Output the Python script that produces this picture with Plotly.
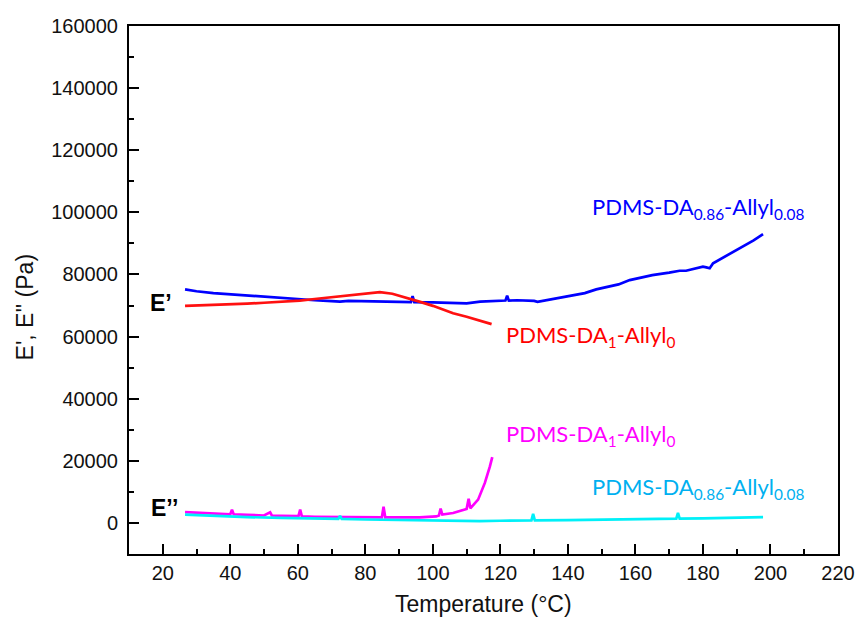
import plotly.graph_objects as go

# ---------------- data ----------------
# E' of PDMS-DA0.86-Allyl0.08 (blue)
t_blue = [26.6, 30, 35, 40, 45, 50, 55, 60, 65, 70, 72.5, 75, 80, 85, 90, 93.5, 94, 94.5,
          100, 105, 110, 114, 120, 121.5, 122, 122.5, 125, 130, 131, 135, 140, 145, 148.4,
          150, 153, 155, 158.3, 160, 165, 170, 173.1, 175, 180, 181, 182, 183, 185, 188.9,
          192, 195, 197.8]
e_blue = [75200, 74600, 74000, 73600, 73100, 72700, 72300, 72000, 71700, 71400, 71250, 71500,
          71400, 71300, 71200, 71100, 73000, 71100, 71000, 70900, 70700, 71250, 71500, 71600,
          73200, 71600, 71700, 71500, 71200, 72000, 72800, 74000, 75200, 75600, 76500, 76800,
          78200, 78600, 79800, 80600, 81200, 81200, 82500, 82300, 82000, 83600, 84800, 87300,
          89200, 91000, 93000]

# E' of PDMS-DA1-Allyl0 (red)
t_red = [26.6, 30, 35, 40, 45, 50, 55, 60.6, 65, 70, 75, 80, 84.3, 88, 91, 94, 96, 100,
         103, 106, 110, 114, 117.4]
e_red = [69900, 70000, 70100, 70300, 70600, 70900, 71200, 71600, 72100, 72700, 73400, 73900,
         74300, 73800, 72900, 71900, 71250, 69900, 68700, 67500, 66400, 65200, 64000]

# E'' of PDMS-DA1-Allyl0 (magenta)
t_mag = [26.6, 30, 35, 40, 40.5, 41, 45, 50, 51.8, 52.3, 55, 60.2, 60.7, 61.2, 65, 70, 75,
         76.3, 80, 84.9, 85.4, 85.9, 90, 96.1, 101, 101.8, 102.3, 102.8, 106, 110, 110.6,
         111.1, 113.4, 115.4, 116.9, 117.6]
e_mag = [3500, 3300, 3000, 2800, 4300, 2800, 2600, 2400, 3400, 2400, 2300, 2200, 4300, 2100,
         2000, 1900, 1850, 1800, 1800, 1800, 5200, 1800, 1800, 1800, 2100, 2400, 4600, 2700,
         3200, 4500, 7800, 4700, 7500, 12900, 18200, 21200]

# E'' of PDMS-DA0.86-Allyl0.08 (cyan)
t_cyan = [26.6, 35, 45, 55, 66.5, 72, 72.5, 73, 80, 90, 96.1, 105, 113.9, 120, 125.7, 129.2,
          129.7, 130.2, 140, 150, 160, 163.2, 172.1, 172.6, 173.1, 180, 190, 197.8]
e_cyan = [2700, 2300, 1900, 1600, 1400, 1300, 2300, 1300, 1100, 900, 850, 700, 600, 700, 750,
          800, 2900, 850, 900, 1000, 1200, 1300, 1400, 3200, 1400, 1500, 1700, 1900]

x_ticks = [20, 40, 60, 80, 100, 120, 140, 160, 180, 200, 220]
y_ticks = [0, 20000, 40000, 60000, 80000, 100000, 120000, 140000, 160000]
y_tick_labels = ["0", "20000", "40000", "60000", "80000", "100000", "120000", "140000", "160000"]
x_tick_labels = ["20", "40", "60", "80", "100", "120", "140", "160", "180", "200", "220"]

fig = go.Figure()
series = [
    (t_blue, e_blue, "#0000FF"),
    (t_red, e_red, "#FF1010"),
    (t_mag, e_mag, "#FF00FF"),
    (t_cyan, e_cyan, "#00F0F8"),
]
for tx, ey, col in series:
    fig.add_trace(go.Scatter(x=tx, y=ey, mode="lines",
                             line=dict(color=col, width=2.7), showlegend=False,
                             hoverinfo="skip"))

lab_font = "Lato, Open Sans, sans-serif"
annots = [
    dict(x=146.6, y=101300, text="PDMS-DA<sub>0.86</sub>-Allyl<sub>0.08</sub>", color="#0000FF"),
    dict(x=121.1, y=60200, text="PDMS-DA<sub>1</sub>-Allyl<sub>0</sub>", color="#FF0000"),
    dict(x=121.1, y=28300, text="PDMS-DA<sub>1</sub>-Allyl<sub>0</sub>", color="#FF00FF"),
    dict(x=146.6, y=11400, text="PDMS-DA<sub>0.86</sub>-Allyl<sub>0.08</sub>", color="#00B0F0"),
]
for a in annots:
    fig.add_annotation(x=a["x"], y=a["y"], xref="x", yref="y", text=a["text"],
                       showarrow=False, xanchor="left", yanchor="middle",
                       font=dict(family=lab_font, size=22, color=a["color"]))

fig.add_annotation(x=19.5, y=70700, xref="x", yref="y", text="<b>E’</b>", showarrow=False,
                   xanchor="center", yanchor="middle",
                   font=dict(family="Liberation Sans, Arial", size=23, color="black"))
fig.add_annotation(x=20.6, y=4700, xref="x", yref="y", text="<b>E’’</b>", showarrow=False,
                   xanchor="center", yanchor="middle",
                   font=dict(family="Liberation Sans, Arial", size=23, color="black"))

# axis titles
fig.add_annotation(x=-0.1467, y=0.467, xref="paper", yref="paper", text="E', E'' (Pa)",
                   showarrow=False, textangle=-90, xanchor="center", yanchor="middle",
                   font=dict(family="Liberation Sans, Arial", size=23, color="#111"))
fig.add_annotation(x=0.5, y=-0.095, xref="paper", yref="paper", text="Temperature (°C)",
                   showarrow=False, xanchor="center", yanchor="middle",
                   font=dict(family="Liberation Sans, Arial", size=23, color="#111"))

axis_common = dict(showline=True, linecolor="black", linewidth=2, mirror=True,
                   ticks="inside", ticklen=10, tickwidth=1.6, tickcolor="black",
                   showgrid=False, zeroline=False, automargin=False,
                   tickfont=dict(family="Liberation Sans, Arial", size=20, color="#111"))

fig.update_xaxes(range=[10, 220], tickvals=x_ticks, ticktext=x_tick_labels,
                 minor=dict(dtick=10, tick0=10, ticks="inside", ticklen=5, tickwidth=1.6,
                            tickcolor="black"),
                 **axis_common)
fig.update_yaxes(range=[-10000, 160000], tickvals=y_ticks, ticktext=y_tick_labels,
                 ticklabelstandoff=5,
                 minor=dict(dtick=10000, tick0=0, ticks="inside", ticklen=5, tickwidth=1.6,
                            tickcolor="black"),
                 **axis_common)

fig.update_layout(width=856, height=626, paper_bgcolor="white", plot_bgcolor="white",
                  margin=dict(l=129, r=18, t=26, b=72), showlegend=False)

# remove the page's default body margin so the figure fills the window exactly
fig.write_html("out.html", config={"displayModeBar": False},
               post_script="document.body.style.margin='0';document.body.style.overflow='hidden';")
